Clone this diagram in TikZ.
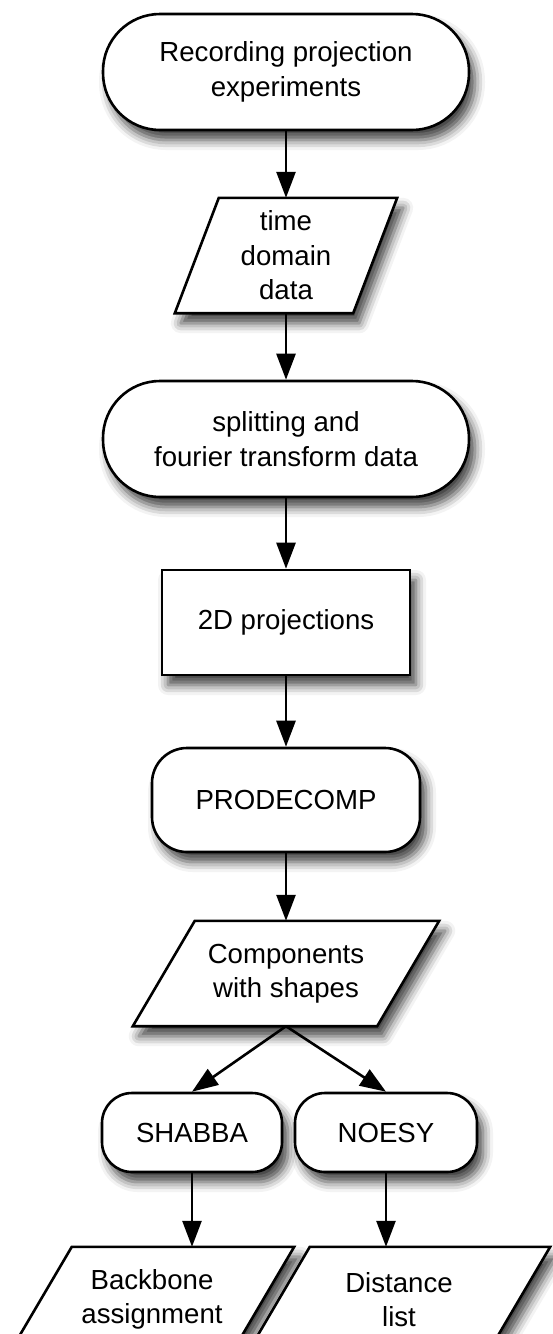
\documentclass[tikz,border=0pt]{standalone}
\usepackage{fontspec}
\setmainfont{Liberation Sans}
\usetikzlibrary{arrows.meta,calc,backgrounds,shadows.blur}
\begin{document}
\begin{tikzpicture}[x=1pt,y=-1pt,
  every node/.style={font=\fontsize{27.6}{34.5}\selectfont, align=center, inner sep=0pt},
  softshadow/.style={blur shadow={shadow xshift=6pt, shadow yshift=-10pt, shadow blur radius=10pt, shadow opacity=75}},
  stadium/.style={draw, line width=2.6pt, fill=white, rectangle, rounded corners=#1, softshadow},
  boxshape/.style={draw, line width=2.6pt, fill=white, softshadow},
  paratext/.style={rectangle, inner sep=0pt},
  arr/.style={line width=2.6pt, -{Triangle[length=26pt,width=19pt]}}
]
\clip (0,0) rectangle (552,1334);
\node[stadium=57pt, minimum width=366pt, minimum height=116pt] (n1) at (286,72) {Recording projection\\experiments};
\node[paratext, minimum width=178pt, minimum height=115pt] (n2) at (286,255.5) {time\\domain\\data};
\node[stadium=57pt, minimum width=366pt, minimum height=116pt] (n3) at (286,439) {splitting and\\fourier transform data};
\node[boxshape, minimum width=248pt, minimum height=105pt] (n4) at (286,622.5) {2D projections};
\node[stadium=35pt, minimum width=268pt, minimum height=104pt] (n5) at (286,800) {PRODECOMP};
\node[paratext, minimum width=244pt, minimum height=105pt] (n6) at (286,973.5) {Components\\with shapes};
\node[stadium=30pt, minimum width=180pt, minimum height=79pt] (n7) at (192,1132.5) {SHABBA};
\node[stadium=30pt, minimum width=182pt, minimum height=79pt] (n8) at (386,1132.5) {NOESY};
\node[paratext, minimum width=222pt, minimum height=105pt] (n9) at (152,1299.5) {Backbone\\assignment};
\node[paratext, minimum width=240pt, minimum height=105pt] (n10) at (399,1299.5) {Distance\\list};
\begin{scope}[on background layer]
  \draw[boxshape] ($(n2.north west)+(22,0)$) -- ($(n2.north east)+(22,0)$) -- ($(n2.south east)-(22,0)$) -- ($(n2.south west)-(22,0)$) -- cycle;
  \draw[boxshape] ($(n6.north west)+(31,0)$) -- ($(n6.north east)+(31,0)$) -- ($(n6.south east)-(31,0)$) -- ($(n6.south west)-(31,0)$) -- cycle;
  \draw[boxshape] ($(n9.north west)+(31,0)$) -- ($(n9.north east)+(31,0)$) -- ($(n9.south east)-(31,0)$) -- ($(n9.south west)-(31,0)$) -- cycle;
  \draw[boxshape] ($(n10.north west)+(31,0)$) -- ($(n10.north east)+(31,0)$) -- ($(n10.south east)-(31,0)$) -- ($(n10.south west)-(31,0)$) -- cycle;
\end{scope}
\draw[arr] (n1) -- (n2);
\draw[arr] (n2) -- (n3);
\draw[arr] (n3) -- (n4);
\draw[arr] (n4) -- (n5);
\draw[arr] (n5) -- (n6);
\draw[arr] (n6.south) -- (n7.north);
\draw[arr] (n6.south) -- (n8.north);
\draw[arr] (n7) -- (n7 |- n9.north);
\draw[arr] (n8) -- (n8 |- n10.north);
\end{tikzpicture}
\end{document}
